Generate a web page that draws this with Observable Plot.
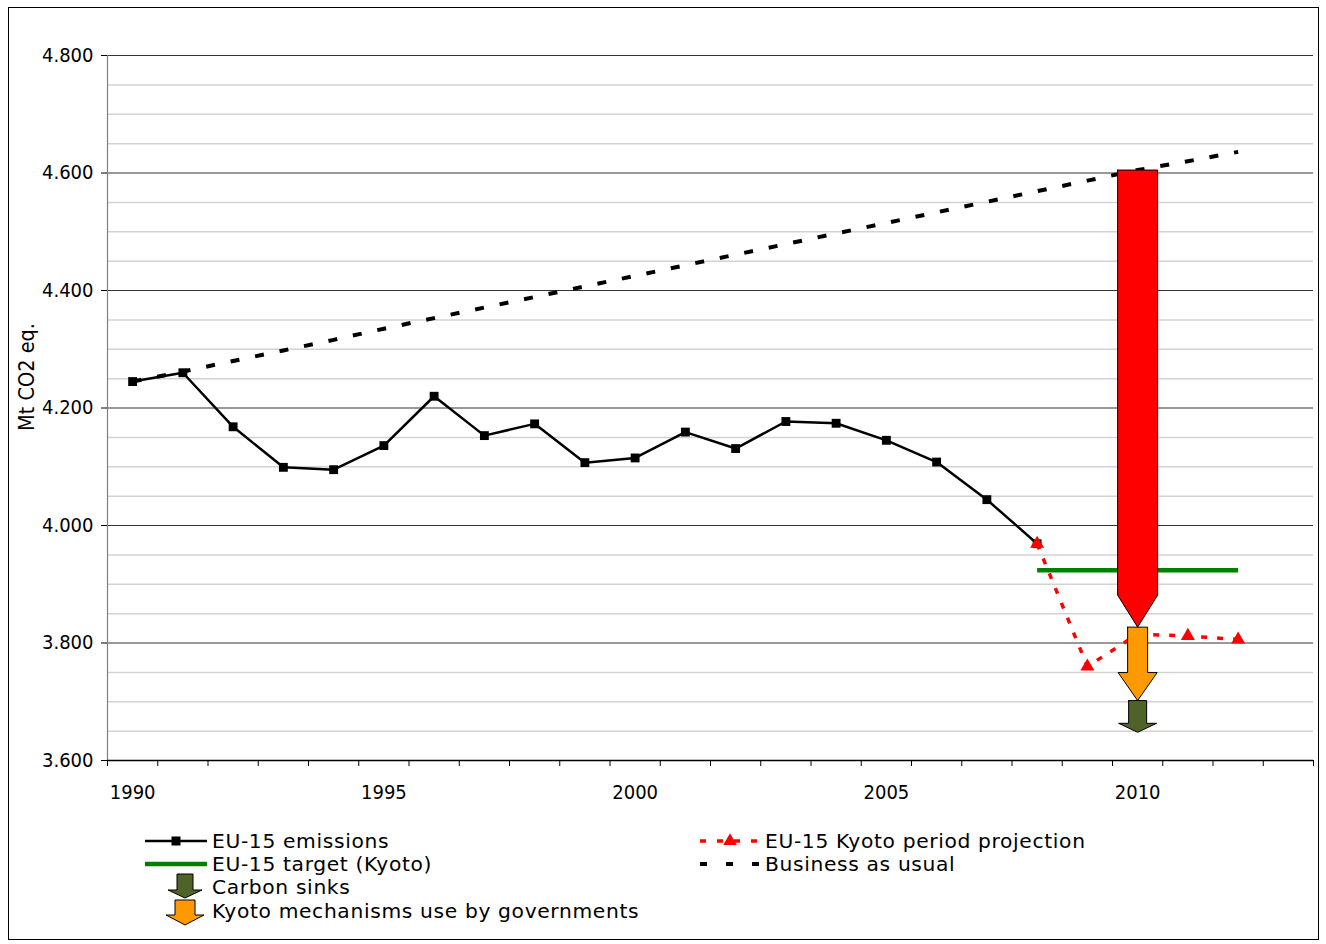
<!DOCTYPE html>
<html><head><meta charset="utf-8">
<script src="https://cdn.jsdelivr.net/npm/d3@7"></script>
<script src="https://cdn.jsdelivr.net/npm/@observablehq/plot@0.6"></script>
<style>
html,body{margin:0;padding:0;background:#fff;}
#wrap{position:relative;width:1326px;height:944px;overflow:hidden;font-family:"DejaVu Sans Condensed","DejaVu Sans",sans-serif;}
#frame{position:absolute;left:8px;top:7px;width:1309px;height:931px;border:1px solid #000;pointer-events:none;}
#chart{position:absolute;left:0;top:0;}
#legsvg{position:absolute;left:0;top:820px;}
.lt{position:absolute;font-size:22.5px;letter-spacing:0.65px;line-height:21px;height:21px;color:#000;white-space:nowrap;transform:scaleY(0.88);transform-origin:left center;}
</style></head><body>
<div id="wrap"><div id="chart"></div><svg id="legsvg" width="1326" height="120"></svg><div id="legend"></div><div id="frame"></div></div>
<script>
// ---- data (Mt CO2 eq.) ----
const emissionYears = [1990,1991,1992,1993,1994,1995,1996,1997,1998,1999,2000,2001,2002,2003,2004,2005,2006,2007,2008];
const emissions     = [4245,4260,4168,4099,4095,4136,4220,4153,4173,4107,4115,4159,4131,4177,4174,4145,4108,4044,3969];
const bauYears = [1990,1991,1992,1993,1994,1995,1996,1997,1998,1999,2000,2001,2002,2003,2004,2005,2006,2007,2008,2009,2010,2011,2012];
const bau      = [4245,4262,4280,4298,4316,4335,4353,4371,4389,4407,4425,4443,4461,4479,4497,4515,4533,4551,4569,4587,4605,4620,4636];
const projYears  = [2008,2009,2010,2011,2012];
const projection = [3969,3760,3815,3812,3806];
const targetYears = [2008,2009,2010,2011,2012];
const target      = [3924,3924,3924,3924,3924];
const arrowYear  = 2010;
const arrowNames = ["Gap to business as usual","Kyoto mechanisms use by governments","Carbon sinks"];
const arrowFrom  = [4605,3827,3702];
const arrowTo    = [3827,3702,3648];
const yTicks = [3600,3800,4000,4200,4400,4600,4800];
const yMinor = [3650,3700,3750,3850,3900,3950,4050,4100,4150,4250,4300,4350,4450,4500,4550,4650,4700,4750];
const xLabels = [1990,1995,2000,2005,2010];
const xBounds = [1989.5,1990.5,1991.5,1992.5,1993.5,1994.5,1995.5,1996.5,1997.5,1998.5,1999.5,2000.5,2001.5,2002.5,2003.5,2004.5,2005.5,2006.5,2007.5,2008.5,2009.5,2010.5,2011.5,2012.5,2013.5];
const legendLabels = ["EU-15 emissions","EU-15 target (Kyoto)","Carbon sinks","Kyoto mechanisms use by governments","EU-15 Kyoto period projection","Business as usual"];

// ---- layout / styles ----
const W = 1326, H = 810, mL = 107, mR = 13, mT = 55, mB = 50;
const xDom = [1989.5, 2013.5], yDom = [3600, 4800];
const kx = (xDom[1]-xDom[0])/(W-mL-mR);   // years per px
const ky = (yDom[1]-yDom[0])/(H-mT-mB);   // Mt per px
const arrowStyle = [
  {fill:"#ff0000", sw:20, hw:20, hl:32},
  {fill:"#ff9900", sw:10, hw:19.5, hl:28},
  {fill:"#4f6228", sw:9,  hw:19, hl:9}
];
function arrowPoly(x, from, to, s){
  const hs = to + s.hl*ky, sw = s.sw*kx, hw = s.hw*kx;
  return [[x-sw,from],[x+sw,from],[x+sw,hs],[x+hw,hs],[x,to],[x-hw,hs],[x-sw,hs],[x-sw,from]];
}
const fmt = d3.formatLocale({decimal:",", thousands:".", grouping:[3], currency:["",""]}).format(",.0f");
const zip = (xs, ys) => xs.map((x,i)=>({x, y: ys[i]}));

const arrowMarks = arrowNames.map((n,i)=>Plot.line(arrowPoly(arrowYear, arrowFrom[i], arrowTo[i], arrowStyle[i]),
  {x: d=>d[0], y: d=>d[1], fill: arrowStyle[i].fill, stroke:"#000", strokeWidth:1, strokeLinejoin:"miter", curve:"linear"}));

const chart = Plot.plot({
  width: W, height: H, marginLeft: mL, marginRight: mR, marginTop: mT, marginBottom: mB,
  style: {fontFamily: '"DejaVu Sans Condensed","DejaVu Sans",sans-serif', fontSize: "20px", background: "transparent", color: "#000"},
  x: {domain: xDom, axis: null},
  y: {domain: yDom, axis: null},
  marks: [
    Plot.ruleY(yMinor, {stroke: "#d2d2d2", strokeWidth: 1.5}),
    Plot.ruleY(yTicks, {stroke: "#333", strokeWidth: 1}),
    Plot.ruleX([xDom[0]], {stroke: "#808080", strokeWidth: 1.2}),
    Plot.axisY({ticks: yTicks, tickSize: 6, tickPadding: 8, tickFormat: fmt, label: null, fontSize: 20}),
    Plot.text(["Mt CO2 eq."], {frameAnchor: "left", textAnchor: "middle", rotate: -90, dx: -80, dy: -31, fontSize: 21.5}),
    Plot.ruleY([yDom[0]], {stroke: "#000", strokeWidth: 1.5}),
    Plot.axisX({ticks: xBounds, tickSize: 6, tickFormat: () => "", label: null}),
    Plot.axisX({ticks: xLabels, tickSize: 0, tickPadding: 24, tickFormat: d => String(d), label: null, fontSize: 20}),
    Plot.line(zip(bauYears, bau), {x:"x", y:"y", stroke:"#000", strokeWidth:4, strokeDasharray:"9,16", strokeLinecap:"butt"}),
    Plot.line(zip(emissionYears, emissions), {x:"x", y:"y", stroke:"#000", strokeWidth:2.5}),
    Plot.dot(zip(emissionYears, emissions), {x:"x", y:"y", symbol:"square", r:5, fill:"#000"}),
    Plot.line(zip(targetYears, target), {x:"x", y:"y", stroke:"#008000", strokeWidth:4.5, strokeLinecap:"butt"}),
    Plot.line(zip(projYears, projection), {x:"x", y:"y", stroke:"#ff0000", strokeWidth:3.5, strokeDasharray:"6,10", strokeLinecap:"butt"}),
    Plot.dot(zip(projYears, projection), {x:"x", y:"y", symbol:"triangle", r:5.2, fill:"#ff0000"}),
    ...arrowMarks
  ]
});
document.getElementById("chart").appendChild(chart);

// ---- legend ----
const leg = d3.select("#legsvg");
leg.append("line").attr("x1",145).attr("x2",207).attr("y1",21).attr("y2",21).attr("stroke","#000").attr("stroke-width",2.5);
leg.append("rect").attr("x",171.5).attr("y",16.5).attr("width",9).attr("height",9).attr("fill","#000");
leg.append("line").attr("x1",145).attr("x2",207).attr("y1",44).attr("y2",44).attr("stroke","#008000").attr("stroke-width",4.5);
function legArrow(cx, top, hs, tip, sw, hw, fill){
  const p = [[cx-sw,top],[cx+sw,top],[cx+sw,hs],[cx+hw,hs],[cx,tip],[cx-hw,hs],[cx-sw,hs]];
  leg.append("path").attr("d","M"+p.join("L")+"Z").attr("fill",fill).attr("stroke","#000").attr("stroke-width",1).attr("stroke-linejoin","miter");
}
legArrow(185, 54, 70, 78, 8, 17, "#4f6228");
legArrow(185, 80, 95, 105, 10, 19, "#ff9900");
leg.append("line").attr("x1",700).attr("x2",760).attr("y1",21).attr("y2",21).attr("stroke","#ff0000").attr("stroke-width",3.5).attr("stroke-dasharray","6,11");
leg.append("path").attr("d", d3.symbol(d3.symbolTriangle, 80)()).attr("transform","translate(730,21)").attr("fill","#ff0000");
leg.append("line").attr("x1",700).attr("x2",760).attr("y1",44).attr("y2",44).attr("stroke","#000").attr("stroke-width",4).attr("stroke-dasharray","7,19");

const pos = [[212,841],[212,864.4],[212,887.7],[212,911],[765,841],[765,864.4]];
const L = d3.select("#legend");
legendLabels.forEach((t,i)=>{
  L.append("div").attr("class","lt").style("left",pos[i][0]+"px").style("top",(pos[i][1]-10.5)+"px").text(t);
});
</script>
</body></html>
